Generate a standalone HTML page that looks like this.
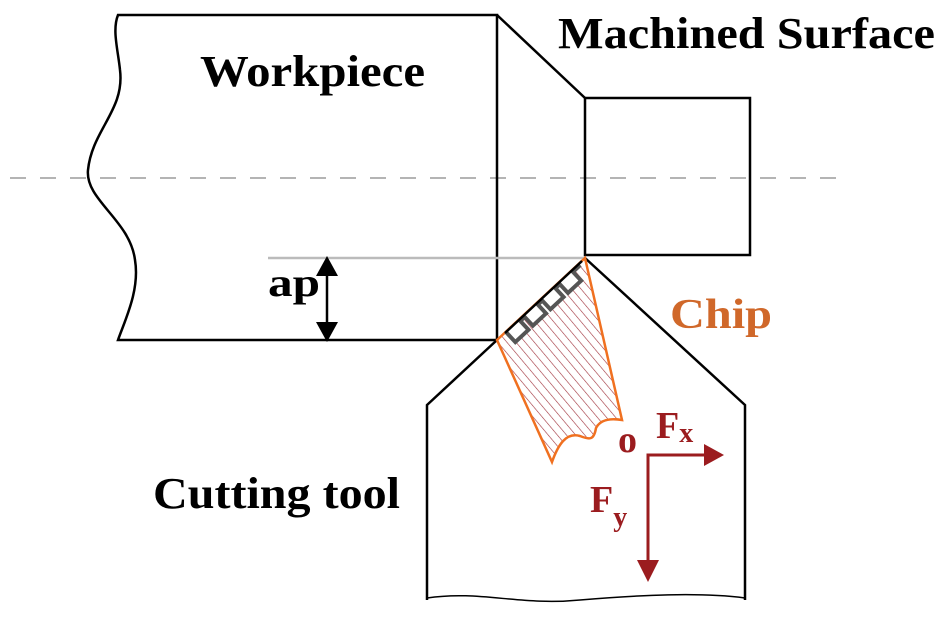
<!DOCTYPE html>
<html><head><style>body{margin:0;background:#fff}svg{display:block}</style></head><body>
<svg width="946" height="634" viewBox="0 0 946 634" xmlns="http://www.w3.org/2000/svg" font-family="Liberation Serif, serif" font-weight="bold">
<defs>
<pattern id="h" width="7" height="7" patternUnits="userSpaceOnUse" patternTransform="rotate(-40)">
<line x1="0" y1="0" x2="0" y2="7" stroke="#a0303a" stroke-width="1.2"/></pattern>
</defs>
<line x1="10" y1="178" x2="850" y2="178" stroke="#888" stroke-width="1.3" stroke-dasharray="16,14"/>
<g fill="none" stroke="#000" stroke-width="2.5">
<path d="M118,15 H497 V340 H118 C125,320 140,290 135,260 C130,220 85,200 88,170 C92,130 125,110 120,70 C118,50 112,30 118,15 Z"/>
<line x1="497" y1="15" x2="585" y2="98"/>
<rect x="585" y="98" width="165" height="157"/>
<path d="M585,258 L745,405 V600 M497,340 L427,405 V600"/>
<path d="M427,598 C480,590 520,606 580,600 C640,595 700,592 745,598" stroke-width="1.5"/>
</g>
<line x1="268" y1="258" x2="585" y2="258" stroke="#bbb" stroke-width="2.5"/>
<line x1="327" y1="268" x2="327" y2="330" stroke="#000" stroke-width="2.5"/>
<polygon points="327,256 316,276 338,276" fill="#000"/>
<polygon points="327,342 316,322 338,322" fill="#000"/>
<path d="M585,258 L622,420 C610,418 600,420 596,428 C594,440 590,440 580,436 C566,432 558,445 552,462 L497,340 Z" fill="url(#h)" stroke="#f07020" stroke-width="2.5"/>
<path transform="translate(497,340) rotate(-43)" d="M12,0 V14 H30 V2 H36 V14 H54 V2 H60 V14 H78 V2 H84 V14 H102 V2 H110 V0" fill="#fff" stroke="#555" stroke-width="4"/>
<line x1="505" y1="333" x2="582" y2="261" stroke="#000" stroke-width="2.5"/>
<g stroke="#9b1c1f" stroke-width="3" fill="#9b1c1f">
<path d="M707,455 H648 V562" fill="none"/>
<polygon points="724,455 704,444 704,466" stroke="none"/>
<polygon points="648,582 637,560 659,560" stroke="none"/>
</g>
<g fill="#9b1c1f" font-size="38">
<text x="618" y="452">o</text>
<text x="656" y="438">F<tspan font-size="28" dy="4">x</tspan></text>
<text x="590" y="512">F<tspan font-size="28" dy="14">y</tspan></text>
</g>
<g font-size="44" fill="#000">
<text x="200" y="86" textLength="225" lengthAdjust="spacingAndGlyphs">Workpiece</text>
<text x="558" y="48" textLength="377" lengthAdjust="spacingAndGlyphs">Machined Surface</text>
<text x="153" y="508" textLength="247" lengthAdjust="spacingAndGlyphs">Cutting tool</text>
<text x="268" y="296" font-size="40" textLength="52" lengthAdjust="spacingAndGlyphs">ap</text>
</g>
<text x="670" y="328" font-size="42" fill="#d0682a" textLength="102" lengthAdjust="spacingAndGlyphs">Chip</text>
</svg>
</body></html>
